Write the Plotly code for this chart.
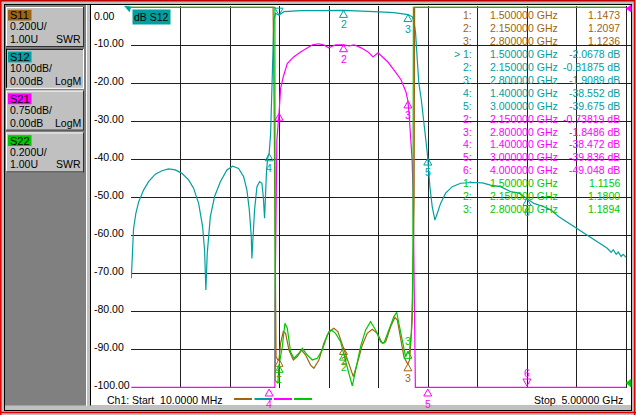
import plotly.graph_objects as go

# ---- trace data (GHz / dB / SWR) ----
s12_f = [0.010, 0.016, 0.023, 0.033, 0.056, 0.084, 0.134, 0.184, 0.252, 0.319,
         0.386, 0.454, 0.520, 0.588, 0.638, 0.689, 0.729, 0.749, 0.762, 0.776,
         0.807, 0.850, 0.908, 0.974, 1.032, 1.092, 1.143, 1.176, 1.200, 1.220,
         1.226, 1.236, 1.253, 1.277, 1.304, 1.327, 1.341, 1.354, 1.361, 1.374,
         1.388, 1.400, 1.415, 1.425, 1.435, 1.442, 1.448, 1.465, 1.500, 1.549,
         1.717, 1.886, 2.150, 2.456, 2.658, 2.800, 2.844, 2.862, 2.877, 2.894,
         2.910, 2.935, 2.961, 2.988, 3.000, 3.021, 3.045, 3.072, 3.096, 3.129,
         3.180, 3.247, 3.331, 3.449, 3.550, 3.633, 3.734, 3.835, 3.919, 4.000,
         4.070, 4.171, 4.239, 4.322, 4.423, 4.524, 4.609, 4.710, 4.810, 4.850,
         4.870, 4.900, 4.920, 4.950, 4.970, 5.000]
s12_db = [-71.3, -66.5, -60.4, -58.2, -54.2, -51.2, -48.1, -45.9, -43.9, -43.0,
          -42.5, -42.8, -43.7, -45.4, -47.6, -51.6, -57.7, -63.9, -74.4, -64.7,
          -55.1, -49.8, -45.9, -42.8, -41.8, -42.4, -44.6, -48.1, -53.3, -60.4,
          -66.1, -60.4, -53.3, -47.2, -45.9, -46.3, -49.8, -55.5, -51.6, -42.8,
          -39.3, -38.55, -33.2, -24.4, -15.6, -6.8, -3.3, -1.6, -2.07, -1.16,
          -0.9, -0.9, -0.82, -1.16, -1.42, -1.91, -2.5, -3.9, -6.8, -13.9,
          -20.0, -24.4, -31.4, -36.7, -39.7, -47.2, -52.5, -56.0, -54.2, -51.6,
          -48.9, -47.2, -46.3, -46.1, -46.2, -46.8, -47.2, -48.5, -48.9, -50.3,
          -51.6, -52.5, -53.3, -55.1, -56.8, -58.6, -59.9, -61.7, -63.4, -64.5,
          -63.8, -65.0, -64.4, -65.6, -65.0, -65.8]

s21_f = [0.010, 1.458, 1.460, 1.468, 1.478, 1.500, 1.516, 1.543, 1.583, 1.647,
         1.717, 1.788, 1.838, 1.899, 1.949, 2.000, 2.071, 2.150, 2.206, 2.256,
         2.327, 2.397, 2.448, 2.498, 2.548, 2.598, 2.660, 2.730, 2.780, 2.800,
         2.812, 2.827, 2.842, 2.852, 2.862, 2.875, 5.000]
s21_db = [-7.5, -7.5, -5.78, -3.80, -2.62, -2.09, -1.60, -1.37, -1.11, -0.98,
          -0.88, -0.80, -0.74, -0.72, -0.74, -0.80, -0.74, -0.74, -0.76, -0.74,
          -0.80, -0.88, -0.98, -0.90, -1.00, -1.08, -1.24, -1.43, -1.67, -1.85,
          -2.13, -2.48, -3.01, -3.66, -5.78, -7.5, -7.5]

s11_f = [0.010, 1.440, 1.450, 1.465, 1.470, 1.488, 1.500, 1.516, 1.543, 1.566,
         1.600, 1.644, 1.684, 1.727, 1.768, 1.818, 1.851, 1.902, 1.952, 2.003,
         2.053, 2.093, 2.138, 2.150, 2.181, 2.221, 2.249, 2.289, 2.340, 2.390,
         2.440, 2.491, 2.541, 2.575, 2.625, 2.668, 2.693, 2.726, 2.759, 2.793,
         2.800, 2.817, 2.834, 2.844, 2.862, 2.867, 5.000]
s11_swr = [3.0, 3.0, 2.51, 1.46, 1.16, 1.144, 1.147, 1.232, 1.293, 1.284,
           1.196, 1.144, 1.161, 1.196, 1.170, 1.117, 1.100, 1.144, 1.232, 1.293,
           1.311, 1.293, 1.223, 1.210, 1.161, 1.100, 1.056, 1.126, 1.223, 1.284,
           1.305, 1.284, 1.232, 1.240, 1.319, 1.368, 1.354, 1.258, 1.161, 1.126,
           1.124, 1.144, 1.302, 1.363, 1.99, 3.0, 3.0]

s22_f = [0.010, 1.458, 1.461, 1.488, 1.500, 1.533, 1.559, 1.583, 1.616, 1.650,
         1.700, 1.734, 1.785, 1.835, 1.886, 1.936, 1.987, 2.027, 2.070, 2.121,
         2.150, 2.171, 2.204, 2.239, 2.272, 2.322, 2.373, 2.423, 2.474, 2.524,
         2.557, 2.608, 2.658, 2.686, 2.709, 2.743, 2.776, 2.800, 2.812, 2.834,
         2.844, 2.850, 2.855, 5.000]
s22_swr = [3.0, 3.0, 1.038, 1.021, 1.116, 1.214, 1.337, 1.311, 1.187, 1.153,
           1.179, 1.205, 1.170, 1.144, 1.153, 1.196, 1.275, 1.302, 1.284, 1.240,
           1.180, 1.144, 1.074, 1.007, 1.091, 1.214, 1.302, 1.345, 1.302, 1.240,
           1.232, 1.302, 1.372, 1.395, 1.337, 1.232, 1.161, 1.189, 1.175, 1.284,
           1.459, 1.723, 3.0, 3.0]

# ---- markers ----
mk11_f = [1.5, 2.15, 2.8]
mk11_v = [1.1473, 1.2097, 1.1236]
mk12_f = [1.5, 2.15, 2.8, 1.4, 3.0, 4.0]
mk12_v = [-2.0678, -0.81875, -1.9089, -38.552, -39.675, -50.3]
mk21_f = [1.5, 2.15, 2.8, 1.4, 3.0, 4.0]
mk21_v = [-2.09, -0.73819, -1.8486, -38.472, -39.836, -49.048]
mk22_f = [1.5, 2.15, 2.8]
mk22_v = [1.1156, 1.1800, 1.1894]

y_ticks = [0, -10, -20, -30, -40, -50, -60, -70, -80, -90, -100]

BROWN, TEAL, MAGENTA, GREEN = "#a06410", "#00a0a0", "#ff00ff", "#00c800"
GRID = "#202020"
FONT = "Liberation Sans, Arial, sans-serif"

# ---- screen geometry ----
FW, FH = 636, 415
L, T, R, B = 131, 6, 5, 27
PW, PH = FW - L - R, FH - T - B
PX_GHZ = 99.16          # pixels per GHz
F0 = 0.01


def px(x, y):
    return (x - L) / PW, 1 - (y - T) / PH


def vrange(lo, hi):
    per = (hi - lo) / 380.0
    return [lo - 0.7 * per, hi + 1.3 * per]


r12 = vrange(-100, 0)
r21 = vrange(-7.5, 0)
rswr = vrange(1.0, 3.0)
ppu = {"y": 380 / 100.0, "y2": 380 / 7.5, "y3": 380 / 2.0, "y4": 380 / 2.0}

fig = go.Figure()
fig.add_trace(go.Scatter(x=s11_f, y=s11_swr, yaxis="y3", mode="lines",
                         line=dict(color=BROWN, width=1.2)))
fig.add_trace(go.Scatter(x=s12_f, y=s12_db, yaxis="y", mode="lines",
                         line=dict(color=TEAL, width=1.2)))
fig.add_trace(go.Scatter(x=s21_f, y=s21_db, yaxis="y2", mode="lines",
                         line=dict(color=MAGENTA, width=1.2)))
fig.add_trace(go.Scatter(x=s22_f, y=s22_swr, yaxis="y4", mode="lines",
                         line=dict(color=GREEN, width=1.2)))

shapes = []
ann = []


def rect(x0, y0, x1, y1, fill=None, line=None, lw=1):
    a = px(x0, y0)
    b = px(x1, y1)
    shapes.append(dict(type="rect", xref="paper", yref="paper", x0=a[0], y0=a[1],
                       x1=b[0], y1=b[1], fillcolor=fill or "rgba(0,0,0,0)",
                       line=dict(color=line or "rgba(0,0,0,0)", width=lw if line else 0),
                       layer="below"))


def seg(x0, y0, x1, y1, color, lw=1, layer="below"):
    a = px(x0, y0)
    b = px(x1, y1)
    shapes.append(dict(type="line", xref="paper", yref="paper", x0=a[0], y0=a[1],
                       x1=b[0], y1=b[1], line=dict(color=color, width=lw), layer=layer))


def poly(pts, color):
    p = [px(*q) for q in pts]
    path = "M " + " L ".join(f"{u:.5f},{v:.5f}" for u, v in p) + " Z"
    shapes.append(dict(type="path", xref="paper", yref="paper", path=path,
                       fillcolor=color, line=dict(color=color, width=0.5), layer="above"))


def text(x, y, s, color="black", anchor="left", size=10.5, bg=None):
    u, v = px(x, y)
    ann.append(dict(xref="paper", yref="paper", x=u, y=v, text=s, showarrow=False,
                    xanchor=anchor, yanchor="middle", font=dict(family=FONT, size=size, color=color),
                    bgcolor=bg, borderpad=1 if bg else 0))


# window frame and panels
rect(0, 0, 636, 415, fill="#c0c0c0")
rect(91, 5, 631, 405, fill="white")
rect(5, 5, 86, 405.5, fill="#808080")
seg(4.5, 4, 4.5, 411, "black")
seg(4, 4.5, 632, 4.5, "black")
seg(631.5, 4, 631.5, 411, "black")
seg(4, 410.5, 632, 410.5, "black")
seg(86.5, 5, 86.5, 406, "white")
seg(90.5, 5, 90.5, 405.5, "black")
seg(1, 0.8, 635, 0.8, "#c00000", 1.5)
seg(0.8, 0, 0.8, 415, "#e00000", 1.5)
seg(634.6, 0, 634.6, 415, "#e00000", 1.5)
seg(0, 412.6, 636, 412.6, "#e00000", 1.5)

# channel buttons
buttons = [("S11", BROWN, "0.200U/", "1.00U", "SWR"),
           ("S12", TEAL, "10.00dB/", "0.00dB", "LogM"),
           ("S21", MAGENTA, "0.750dB/", "0.00dB", "LogM"),
           ("S22", GREEN, "0.200U/", "1.00U", "SWR")]
for k, (name, col, l1, l2, fmt) in enumerate(buttons):
    top = 7 + 41.8 * k
    rect(6, top, 84, top + 40, fill="#c0c0c0")
    hi, lo = ("black", "white") if k == 1 else ("white", "#303030")
    seg(6, top + 0.5, 84, top + 0.5, hi)
    seg(6.5, top, 6.5, top + 40, hi)
    seg(6, top + 39.5, 84, top + 39.5, lo)
    seg(83.5, top, 83.5, top + 40, lo)
    rect(8, top + 2.8, 31.5, top + 13.6, fill=col)
    text(9.3, top + 8.3, name, size=11)
    text(9.3, top + 19.5, l1)
    text(9.3, top + 32, l2)
    text(82, top + 32, fmt, anchor="right")

# y scale labels (S12 log magnitude)
for v in y_ticks:
    yy = 7.3 - v * 3.8
    if v == 0:
        yy = 15.5
    else:
        yy -= 2
    text(93, yy, f"{v:.2f}")

# reference pointers
poly([(124.5, 6), (131, 6.5), (129.5, 12)], TEAL)
poly([(626, 8.5), (631, 5), (631, 12)], MAGENTA)
poly([(626, 383), (631, 379), (631, 387)], GREEN)

# trace title box
text(132, 17, "dB S12", bg=TEAL)


# marker triangles on traces
def marker(f, v, yref, color, label=None, down=False, label_above=False):
    dx = 4.0 / PX_GHZ
    dy = 7.0 / ppu[yref]
    if down:
        path = f"M {f - dx},{v + dy} L {f + dx},{v + dy} L {f},{v} Z"
    else:
        path = f"M {f - dx},{v - dy} L {f + dx},{v - dy} L {f},{v} Z"
    shapes.append(dict(type="path", xref="x", yref=yref, path=path,
                       line=dict(color=color, width=1), layer="above"))
    if label:
        ann.append(dict(xref="x", yref=yref, x=f, y=v, text=label, showarrow=False,
                        yshift=(10 if label_above else -14), xanchor="center", yanchor="middle",
                        font=dict(family=FONT, size=10.5, color=color)))


for i, (f, v) in enumerate(zip(mk11_f, mk11_v)):
    marker(f, v, "y3", BROWN, str(i + 1))
for i, (f, v) in enumerate(zip(mk12_f, mk12_v)):
    if i == 0:
        marker(f, v, "y", TEAL, down=True)
    else:
        marker(f, v, "y", TEAL, str(i + 1))
for i, (f, v) in enumerate(zip(mk21_f, mk21_v)):
    if v >= -7.5:
        marker(f, v, "y2", MAGENTA, str(i + 1) if i > 0 else None)
    elif i < 5:
        # below the bottom of the grid
        y_ap = 1 - (389 - T) / PH
        y_bs = 1 - (396 - T) / PH
        dx = 4.0 / PX_GHZ
        shapes.append(dict(type="path", xref="x", yref="paper",
                           path=f"M {f - dx},{y_bs} L {f + dx},{y_bs} L {f},{y_ap} Z",
                           line=dict(color=MAGENTA, width=1), layer="above"))
        ann.append(dict(xref="x", yref="paper", x=f, y=1 - (404 - T) / PH, text=str(i + 1),
                        showarrow=False, xanchor="center", yanchor="middle",
                        font=dict(family=FONT, size=10.5, color=MAGENTA)))
    else:
        y_ap = 1 - (386 - T) / PH
        y_bs = 1 - (379 - T) / PH
        dx = 4.0 / PX_GHZ
        shapes.append(dict(type="path", xref="x", yref="paper",
                           path=f"M {f - dx},{y_bs} L {f + dx},{y_bs} L {f},{y_ap} Z",
                           line=dict(color=MAGENTA, width=1), layer="above"))
        ann.append(dict(xref="x", yref="paper", x=f, y=1 - (373 - T) / PH, text=str(i + 1),
                        showarrow=False, xanchor="center", yanchor="middle",
                        font=dict(family=FONT, size=10.5, color=MAGENTA)))
for i, (f, v) in enumerate(zip(mk22_f, mk22_v)):
    marker(f, v, "y4", GREEN, str(i + 1), label_above=(i == 2))

# marker readout table
rows = []
for i, (f, v) in enumerate(zip(mk11_f, mk11_v)):
    rows.append((BROWN, f"{i + 1}:", f, f"{v:.4f}"))
for i, (f, v) in enumerate(zip(mk12_f[:5], mk12_v[:5])):
    rows.append((TEAL, ("> " if i == 0 else "") + f"{i + 1}:", f, f"{v:.5g} dB"))
for i, (f, v) in enumerate(zip(mk21_f[1:], mk21_v[1:])):
    rows.append((MAGENTA, f"{i + 2}:", f, f"{v:.5g} dB"))
for i, (f, v) in enumerate(zip(mk22_f, mk22_v)):
    rows.append((GREEN, f"{i + 1}:", f, f"{v:.4f}"))
for k, (col, num, f, val) in enumerate(rows):
    yy = 15 + 12.95 * k
    text(473, yy, num, col, anchor="right")
    text(559, yy, f"{f:.6f} GHz", col, anchor="right")
    text(621, yy, val, col, anchor="right")

# status line
text(105.5, 399.5, "Ch1: Start  10.0000 MHz")
text(623.5, 399.5, "Stop  5.00000 GHz", anchor="right")
for (x0, x1), col in zip([(234, 252), (254.5, 272), (274, 292), (294, 312)],
                         [BROWN, TEAL, MAGENTA, GREEN]):
    seg(x0, 399, x1, 399, col, 2, layer="above")

x_grid = [F0 + 0.499 * k for k in range(11)]
fig.update_layout(
    width=FW, height=FH,
    margin=dict(l=L, r=R, t=T, b=B, pad=0),
    paper_bgcolor="#c0c0c0", plot_bgcolor="rgba(0,0,0,0)",
    showlegend=False, hovermode=False,
    xaxis=dict(range=[F0 - 0.3 / PX_GHZ, F0 + (PW - 0.3) / PX_GHZ], tickvals=x_grid,
               showticklabels=False, showgrid=True, gridcolor=GRID, gridwidth=1,
               zeroline=False, ticks=""),
    yaxis=dict(range=r12, tickvals=y_ticks[1:], showticklabels=False, showgrid=True,
               gridcolor=GRID, gridwidth=1, zeroline=False, ticks=""),
    yaxis2=dict(range=r21, overlaying="y", visible=False),
    yaxis3=dict(range=rswr, overlaying="y", visible=False),
    yaxis4=dict(range=rswr, overlaying="y", visible=False),
    shapes=shapes, annotations=ann,
)

# the page must start at the window corner, like the analyzer screen
fig.write_html("out.html", config={"displayModeBar": False},
               post_script="document.body.style.margin='0px';")
